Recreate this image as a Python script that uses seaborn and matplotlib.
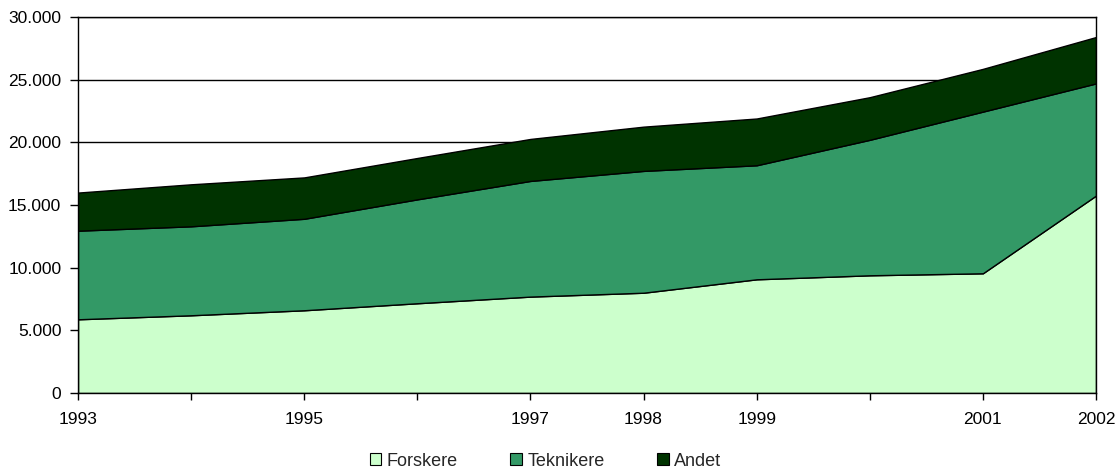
import matplotlib
matplotlib.use("Agg")
import matplotlib.pyplot as plt
from matplotlib.ticker import FuncFormatter, MultipleLocator
from matplotlib.patches import Patch
import seaborn as sns
import pandas as pd

years = [1993, 1994, 1995, 1996, 1997, 1998, 1999, 2000, 2001, 2002]
year_labels = ["1993", "", "1995", "", "1997", "1998", "1999", "", "2001", "2002"]
forskere = [5880, 6200, 6600, 7160, 7690, 8000, 9070, 9390, 9550, 15750]
teknikere = [7070, 7100, 7300, 8290, 9230, 9720, 9100, 10810, 12900, 8950]
andet = [3040, 3350, 3300, 3300, 3350, 3530, 3730, 3400, 3410, 3700]
series_names = ["Forskere", "Teknikere", "Andet"]
colors = ["#CCFFCC", "#339966", "#003300"]

df = pd.DataFrame({"year": years, "Forskere": forskere,
                   "Teknikere": teknikere, "Andet": andet})

sns.set_theme(style="white")
plt.rcParams["font.family"] = ["Liberation Sans", "DejaVu Sans"]

fig = plt.figure(figsize=(11.18, 4.68), dpi=100)
ax = fig.add_axes([0.0698, 0.1603, 0.9105, 0.8034])

ax.stackplot(df["year"], df["Forskere"], df["Teknikere"], df["Andet"],
             colors=colors, edgecolor="black", linewidth=1.0, zorder=2)

ax.set_xlim(years[0], years[-1])
ax.set_ylim(0, 30000)
ax.yaxis.set_major_locator(MultipleLocator(5000))
ax.yaxis.set_major_formatter(FuncFormatter(lambda v, p: f"{int(v):,}".replace(",", ".")))
ax.set_xticks(years)
ax.set_xticklabels(year_labels)
ax.grid(axis="y", color="black", linewidth=1.0, zorder=0)
ax.set_axisbelow(True)

for s in ax.spines.values():
    s.set_color("black")
    s.set_linewidth(1.0)
    s.set_zorder(3)

ax.tick_params(axis="both", which="major", direction="out", width=1,
               color="black", labelsize=12.5, labelcolor="black",
               bottom=True, left=True)
ax.tick_params(axis="x", length=5, pad=9)
ax.tick_params(axis="y", length=6, pad=6)

handles = [Patch(facecolor=c, edgecolor="black", linewidth=0.8) for c in colors]
fig.legend(handles, series_names, loc="lower center", bbox_to_anchor=(0.488, -0.038),
           ncol=3, frameon=False, fontsize=13, handlelength=0.65, handleheight=0.65,
           handletextpad=0.3, columnspacing=2.9)

fig.savefig("out.png", dpi=100)
